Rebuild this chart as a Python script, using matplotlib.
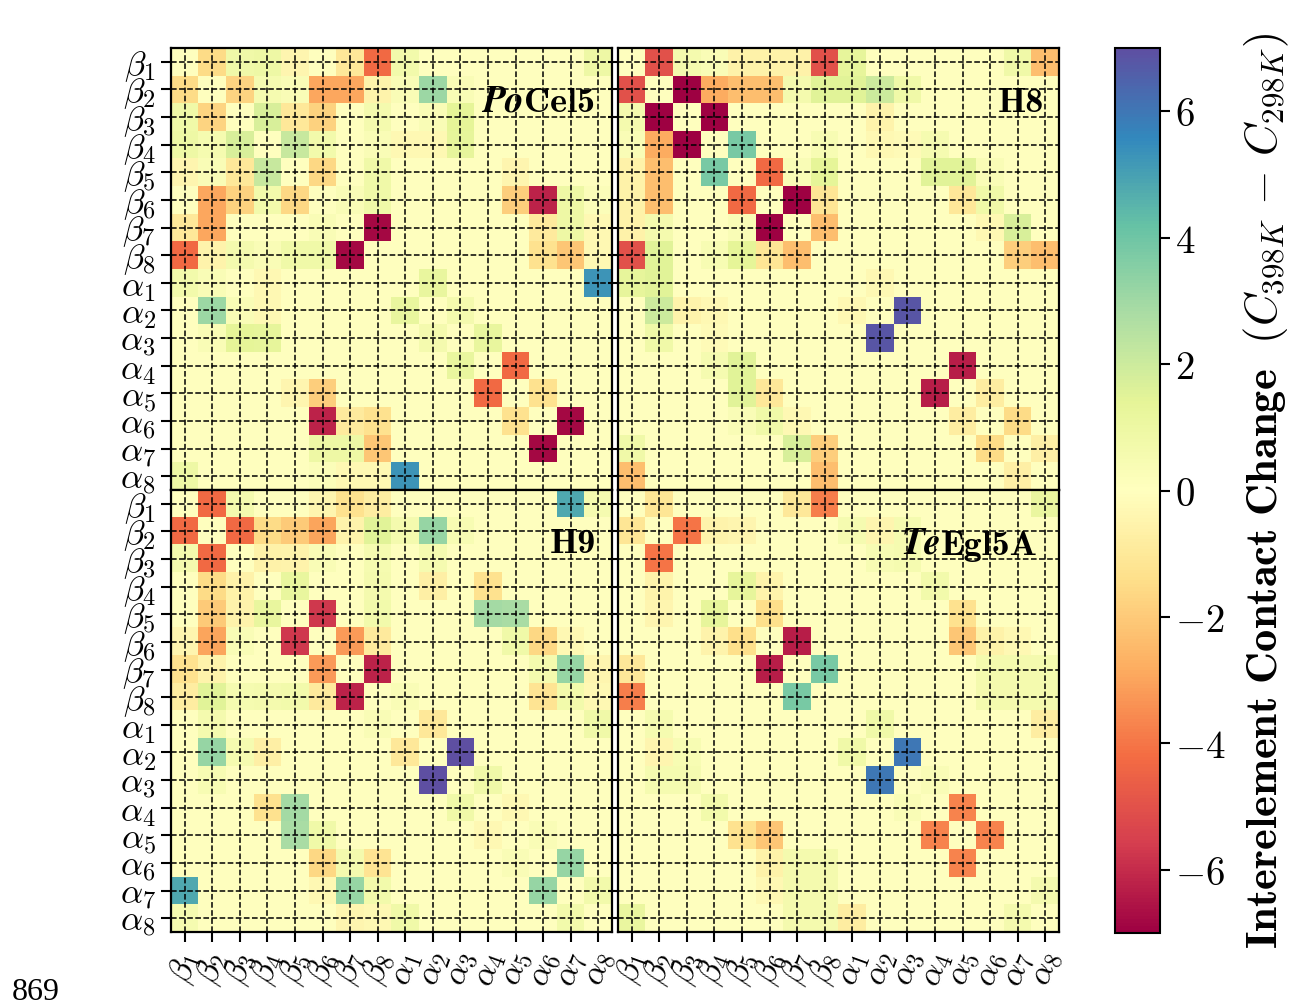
import numpy as np
import matplotlib
matplotlib.use("Agg")
import matplotlib.pyplot as plt

plt.rcParams['mathtext.fontset'] = 'cm'
plt.rcParams['axes.unicode_minus'] = True

# ---------------- data ----------------
labels = [r'$\beta_{%d}$' % i for i in range(1, 9)] + [r'$\alpha_{%d}$' % i for i in range(1, 9)]

pocel5 = [
    [0, -1.5, 0.8, 0.9, -0.4, 0, -1.0, -4.3, 0.7, 0, 0, 0, 0, 0, 0, 0.9],
    [-1.5, 0, -1.7, 0.5, 0.3, -2.9, -2.9, -0.5, 0.3, 3.1, 0.3, 0, 0, 0, 0, 0],
    [0.8, -1.7, 0, 1.7, -1.0, -1.8, 0, 0.6, 0, 0.3, 1.4, 0, 0, 0, 0, 0],
    [0.9, 0.5, 1.7, 0, 2.1, 0.7, 0, 0.3, -0.3, -0.3, 1.3, 0, 0, 0, 0, 0],
    [-0.4, 0.3, -1.0, 2.1, 0, -1.6, 0, 0.8, 0, 0, 0, 0, -0.4, 0, 0, 0],
    [0, -2.9, -1.8, 0.7, -1.6, 0, 0.3, 0.8, 0, 0, 0, 0, -1.9, -6.2, 0.9, 0.2],
    [-1.0, -2.9, 0, 0, 0, 0.3, 0, -6.8, 0, 0, 0, 0, 0, -0.9, 0.9, -0.3],
    [-4.3, -0.5, 0.6, 0.3, 0.8, 0.8, -6.8, 0, 0, 0, 0, 0, 0, -1.3, -2.1, -0.3],
    [0.7, 0.3, 0, -0.3, 0, 0, 0, 0, 0, 1.2, 0, 0, 0, 0, 0, 5.3],
    [0, 3.1, 0.3, -0.3, 0, 0, 0, 0, 1.2, 0, 0.6, 0, 0, 0, 0, 0],
    [0, 0.3, 1.4, 1.3, 0, 0, 0, 0, 0, 0.6, 0, 1.2, 0, 0, 0, 0],
    [0, 0, 0, 0, 0, 0, 0, 0, 0, 0, 1.2, 0, -4.3, 0, 0, 0],
    [0, 0, 0, 0, -0.4, -1.9, 0, 0, 0, 0, 0, -4.3, 0, -1.3, 0, 0],
    [0, 0, 0, 0, 0, -6.2, -0.9, -1.3, 0, 0, 0, 0, -1.3, 0, -6.8, 0],
    [0, 0, 0, 0, 0, 0.9, 0.9, -2.1, 0, 0, 0, 0, 0, -6.8, 0, 0],
    [0.9, 0, 0, 0, 0, 0.2, -0.3, -0.3, 5.3, 0, 0, 0, 0, 0, 0, 0],
]

h8 = [
    [0, -5.0, 0.6, 0.3, -0.6, -0.6, -0.6, -5.0, 1.3, 0, 0, 0, 0, 0, 0.8, -2.3],
    [-5.0, 0, -7.0, -2.8, -2.3, -2.3, 0.6, 1.5, 1.5, 2.0, 0.8, 0, 0, 0, 0, 0],
    [0.6, -7.0, 0, -7.0, 0, 0, 0, 0, 0, -0.5, 0, 0, 0, 0, 0, 0],
    [0.3, -2.8, -7.0, 0, 3.8, 0, 0, 0.4, 0, -0.3, -0.2, 0.5, 0, 0, 0, 0],
    [-0.6, -2.3, 0, 3.8, 0, -4.3, 0.3, 1.4, 0, 0, 0, 1.5, 1.5, 0.3, 0, 0],
    [-0.6, -2.3, 0, 0, -4.3, 0, -7.0, -1.1, 0, 0, 0, 0, -1.0, 0.8, 0, 0],
    [-0.6, 0.6, 0, 0, 0.3, -7.0, 0, -2.3, 0, 0, 0, 0, 0, -0.3, 1.7, 0],
    [-5.0, 1.5, 0, 0.4, 1.4, -1.1, -2.3, 0, 0, 0, 0, 0, 0, 0, -1.9, -2.3],
    [1.3, 1.5, 0, 0, 0, 0, 0, 0, 0, -0.3, 0, 0, 0, 0, 0, 0],
    [0, 2.0, -0.5, -0.3, 0, 0, 0, 0, -0.3, 0, 6.8, 0, 0, 0, 0, 0],
    [0, 0.8, 0, -0.2, 0, 0, 0, 0, 0, 6.8, 0, 0, 0, 0, 0, 0],
    [0, 0, 0, 0.5, 1.5, 0, 0, 0, 0, 0, 0, 0, -6.3, 0, 0, 0],
    [0, 0, 0, 0, 1.5, -1.0, 0, 0, 0, 0, 0, -6.3, 0, -0.8, 0, 0],
    [0, 0, 0, 0, 0.3, 0.8, -0.3, 0, 0, 0, 0, 0, -0.8, 0, -1.5, 0],
    [0.8, 0, 0, 0, 0, 0, 1.7, -1.9, 0, 0, 0, 0, 0, -1.5, 0, -0.7],
    [-2.3, 0, 0, 0, 0, 0, 0, -2.3, 0, 0, 0, 0, 0, 0, -0.7, 0],
]

h9 = [
    [0, -4.3, 0.6, 0, 0, -0.4, -1.3, -0.8, 0, 0, 0, 0, 0, 0, 4.8, 0.5],
    [-4.3, 0, -4.3, -1.5, -2.0, -3.0, -0.5, 1.5, 0.6, 3.2, 0.4, 0, 0, 0, 0, 0],
    [0.6, -4.3, 0, -0.6, -0.5, 0.3, 0, 0.5, 0, 0.5, 0, 0, 0, 0, 0, 0],
    [0, -1.5, -0.6, 0, 1.2, 0, 0, 0.6, 0, -0.7, 0, -1.3, 0, 0, 0, 0],
    [0, -2.0, -0.5, 1.2, 0, -5.7, 0, 0.7, 0, 0, 0, 2.9, 2.8, 0, 0, 0],
    [-0.4, -3.0, 0.3, 0, -5.7, 0, -3.2, -0.9, 0, 0, 0, 0, 0.8, -1.6, -0.3, 0],
    [-1.3, -0.5, 0, 0, 0, -3.2, 0, -6.2, 0, 0, 0, 0, 0, 0.6, 3.2, -0.4],
    [-0.8, 1.5, 0.5, 0.6, 0.7, -0.9, -6.2, 0, 0.3, 0, 0, 0, 0, -1.2, 0.7, -0.3],
    [0, 0.6, 0, 0, 0, 0, 0, 0.3, 0, -1.0, 0, 0, 0, 0, 0, 0.8],
    [0, 3.2, 0.5, -0.7, 0, 0, 0, 0, -1.0, 0, 7.0, 0, 0, 0, 0, 0],
    [0, 0.4, 0, 0, 0, 0, 0, 0, 0, 7.0, 0, 0.8, 0, 0, 0, 0],
    [0, 0, 0, -1.3, 2.9, 0, 0, 0, 0, 0, 0.8, 0, -0.3, 0, 0, 0],
    [0, 0, 0, 0, 2.8, 0.8, 0, 0, 0, 0, 0, -0.3, 0, 0.3, 0, 0],
    [0, 0, 0, 0, 0, -1.6, 0.6, -1.2, 0, 0, 0, 0, 0.3, 0, 3.2, 0],
    [4.8, 0, 0, 0, 0, -0.3, 3.2, 0.7, 0, 0, 0, 0, 0, 3.2, 0, 0.7],
    [0.5, 0, 0, 0, 0, 0, -0.4, -0.3, 0.8, 0, 0, 0, 0, 0, 0.7, 0],
]

teegl5a = [
    [0, -1.1, 0, 0, 0, 0, -1.0, -3.8, 0, 0, 0, 0, 0, 0, 0, 1.1],
    [-1.1, 0, -4.0, -0.5, -0.4, 0, 0, 0, 0.5, -0.4, 0.5, 0, 0, 0, 0, 0],
    [0, -4.0, 0, 0, 0, 0, 0, 0, 0, 0.4, 0.5, 0, 0, 0, 0, 0],
    [0, -0.5, 0, 0, 1.3, -0.5, 0, 0, 0, 0, 0, 0.7, 0, 0, 0, 0],
    [0, -0.4, 0, 1.3, 0, -1.4, 0, 0, 0, 0, 0, 0, -1.3, 0, 0, 0],
    [0, 0, 0, -0.5, -1.4, 0, -6.3, 0, 0, 0, 0, 0, -2.1, -0.6, -0.3, 0],
    [-1.0, 0, 0, 0, 0, -6.3, 0, 3.8, 0, 0, 0, 0, 0, 0.6, 0.6, 0.6],
    [-3.8, 0, 0, 0, 0, 0, 3.8, 0, 0, 0, 0, 0, 0, 0.6, 0.6, 0.6],
    [0, 0.5, 0, 0, 0, 0, 0, 0, 0, 0.8, 0, 0, 0, 0, 0, -0.8],
    [0, -0.4, 0.4, 0, 0, 0, 0, 0, 0.8, 0, 6.0, 0, 0, 0, 0, 0],
    [0, 0.5, 0.5, 0, 0, 0, 0, 0, 0, 6.0, 0, 0.3, 0, 0, 0, 0],
    [0, 0, 0, 0.7, 0, 0, 0, 0, 0, 0, 0.3, 0, -3.7, 0, 0, 0],
    [0, 0, 0, 0, -1.3, -2.1, 0, 0, 0, 0, 0, -3.7, 0, -3.7, 0, 0],
    [0, 0, 0, 0, 0, -0.6, 0.6, 0.6, 0, 0, 0, 0, -3.7, 0, 0, 0],
    [0, 0, 0, 0, 0, -0.3, 0.6, 0.6, 0, 0, 0, 0, 0, 0, 0, 0.6],
    [1.1, 0, 0, 0, 0, 0, 0.6, 0.6, -0.8, 0, 0, 0, 0, 0, 0.6, 0],
]

cbar_ticks = [-6, -4, -2, 0, 2, 4, 6]

# ---------------- layout ----------------
W, H = 1292, 1008
fig = plt.figure(figsize=(W / 100, H / 100), dpi=100)


def px_axes(x0, y0, x1, y1):
    return fig.add_axes([x0 / W, 1 - y1 / H, (x1 - x0) / W, (y1 - y0) / H])


panels = [
    (pocel5, (171, 48, 612, 490), ('Po', 'Cel5'), (0.961, 0.855)),
    (h8, (618, 48, 1059, 490), ('', 'H8'), (0.966, 0.855)),
    (h9, (171, 490, 612, 932), ('', 'H9'), (0.964, 0.857)),
    (teegl5a, (618, 490, 1059, 932), ('Te', 'Egl5A'), (0.952, 0.853)),
]

im = None
for k, (mat, box, (it, rest), (lx, ly)) in enumerate(panels):
    ax = px_axes(*box)
    im = ax.imshow(np.array(mat), cmap='Spectral', vmin=-7, vmax=7,
                   interpolation='nearest', aspect='auto')
    ax.set_xticks(range(16))
    ax.set_yticks(range(16))
    ax.set_xticklabels(labels, rotation=70, ha='center')
    ax.set_yticklabels(labels)
    ax.grid(True, color='k', linestyle='--', linewidth=1.1)
    ax.tick_params(direction='out', length=7, width=1.5, pad=4)
    ax.tick_params(axis='y', labelsize=25)
    ax.tick_params(axis='x', labelsize=24)
    for sp in ax.spines.values():
        sp.set_linewidth(1.6)
    top = k < 2
    right = k % 2 == 1
    if top:
        ax.tick_params(axis='x', length=0, labelbottom=False)
    if right:
        ax.tick_params(axis='y', labelleft=False)
    t = ax.text(lx, ly, rest, transform=ax.transAxes, ha='right', va='baseline',
                fontsize=26, family='cmb10', zorder=5)
    if it:
        ax.annotate(it, xy=(0, 0), xycoords=t, ha='right', va='bottom',
                    fontsize=27, family='STIXGeneral', weight='bold',
                    style='italic', zorder=5)

cax = px_axes(1115, 48, 1160, 933)
cb = fig.colorbar(im, cax=cax)
cb.set_ticks(cbar_ticks)
cb.set_ticklabels([r'$%d$' % v for v in cbar_ticks])
cb.outline.set_linewidth(1.5)
cax.tick_params(length=7, width=1.5, labelsize=28)
cb.set_label(r'$\mathbf{Interelement\ Contact\ Change}\ \ (C_{398K}\,-\,C_{298K})$',
             fontsize=32, labelpad=12)

fig.text(12 / W, 1 - 992 / H, '869', family='Liberation Serif', fontsize=23,
         va='center', ha='left')

fig.savefig('out.png', dpi=100)
